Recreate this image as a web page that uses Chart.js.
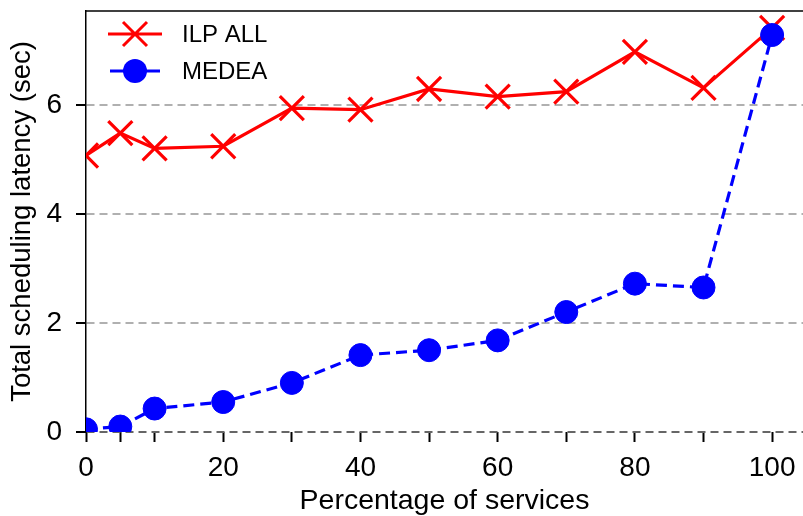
<!DOCTYPE html>
<html>
<head>
<meta charset="utf-8">
<script src="https://cdn.jsdelivr.net/npm/chart.js@4/dist/chart.umd.min.js"></script>
<style>
  html, body { margin: 0; padding: 0; background: #fff; }
  #wrap { width: 803px; height: 516px; }
</style>
</head>
<body>
<div id="wrap"><canvas id="c" width="803" height="516"></canvas></div>
<script>
// Percentage of services scheduled
const percentages = [0, 5, 10, 20, 30, 40, 50, 60, 70, 80, 90, 100];
// Total scheduling latency in seconds
const ilpAll = [5.07, 5.48, 5.20, 5.24, 5.94, 5.91, 6.29, 6.15, 6.24, 6.97, 6.31, 7.41];
const medea  = [0.05, 0.10, 0.43, 0.55, 0.90, 1.41, 1.50, 1.68, 2.20, 2.72, 2.65, 7.28];
const xTickValues = [0, 5, 10, 20, 30, 40, 50, 60, 70, 80, 90, 100];
const xLabelValues = [0, 20, 40, 60, 80, 100];
const yTickValues = [0, 2, 4, 6];
const seriesNames = ['ILP ALL', 'MEDEA'];

const FONT = "'Liberation Sans', Arial, Helvetica, sans-serif";
const RED = '#ff0000';
const BLUE = '#0000ff';

const toPoints = (ys) => percentages.map((x, i) => ({ x, y: ys[i] }));

// Top frame line and the in-plot legend
const framePlugin = {
  id: 'frameAndLegend',
  afterDraw(chart) {
    const { ctx, chartArea } = chart;
    ctx.save();
    ctx.strokeStyle = '#000';
    ctx.lineWidth = 1.5;
    ctx.beginPath();
    ctx.moveTo(chartArea.left, chartArea.top);
    ctx.lineTo(chartArea.right, chartArea.top);
    ctx.stroke();

    const lx0 = 108, lx1 = 162, cx = 135, tx = 182;
    const rows = [34, 71];
    // ILP ALL entry
    ctx.strokeStyle = RED;
    ctx.lineWidth = 3;
    ctx.beginPath();
    ctx.moveTo(lx0, rows[0]); ctx.lineTo(lx1, rows[0]);
    const d = 12;
    ctx.moveTo(cx - d, rows[0] - d); ctx.lineTo(cx + d, rows[0] + d);
    ctx.moveTo(cx - d, rows[0] + d); ctx.lineTo(cx + d, rows[0] - d);
    ctx.stroke();
    // MEDEA entry
    ctx.strokeStyle = BLUE;
    ctx.beginPath();
    ctx.moveTo(lx0 + 2, rows[1]); ctx.lineTo(lx1 - 2, rows[1]);
    ctx.stroke();
    ctx.fillStyle = BLUE;
    ctx.beginPath();
    ctx.arc(cx, rows[1], 12, 0, Math.PI * 2);
    ctx.fill();

    ctx.fillStyle = '#000';
    ctx.font = '24px ' + FONT;
    ctx.textBaseline = 'middle';
    ctx.textAlign = 'left';
    ctx.fillText(seriesNames[0], tx, rows[0] + 1);
    ctx.fillText(seriesNames[1], tx, rows[1] + 1);
    ctx.restore();
  }
};

new Chart(document.getElementById('c'), {
  type: 'line',
  data: {
    datasets: [
      {
        label: seriesNames[0],
        data: toPoints(ilpAll),
        borderColor: RED,
        backgroundColor: RED,
        borderWidth: 3.2,
        pointStyle: 'crossRot',
        pointRadius: 17,
        pointBorderWidth: 3.2,
        pointBorderColor: RED,
        tension: 0,
        order: 1
      },
      {
        label: seriesNames[1],
        data: toPoints(medea),
        borderColor: BLUE,
        backgroundColor: BLUE,
        borderWidth: 3.2,
        borderDash: [11, 6],
        pointStyle: 'circle',
        pointRadius: 11.5,
        pointBorderWidth: 1,
        pointBorderColor: BLUE,
        pointBackgroundColor: BLUE,
        tension: 0,
        order: 0
      }
    ]
  },
  options: {
    responsive: false,
    animation: false,
    devicePixelRatio: 1,
    layout: { autoPadding: false, padding: { top: 11, right: 0, left: 0, bottom: 0 } },
    plugins: {
      legend: { display: false },
      tooltip: { enabled: false }
    },
    scales: {
      x: {
        type: 'linear',
        min: 0,
        max: 104.5,
        afterBuildTicks(axis) {
          axis.ticks = xTickValues.map(v => ({ value: v }));
        },
        afterFit(axis) {
          axis.height = 84;
          axis.paddingLeft = 0;
          axis.paddingRight = 0;
        },
        ticks: {
          autoSkip: false,
          maxRotation: 0,
          padding: 9,
          color: '#000',
          font: { family: FONT, size: 28 },
          callback: (v) => xLabelValues.includes(v) ? String(v) : ''
        },
        grid: {
          drawOnChartArea: false,
          drawTicks: true,
          tickLength: 10,
          tickColor: '#000',
          tickWidth: 2
        },
        border: { display: false },
        title: {
          display: true,
          text: 'Percentage of services',
          color: '#000',
          font: { family: FONT, size: 28.5, lineHeight: 1.05 },
          padding: { top: 0, bottom: 0 }
        }
      },
      y: {
        type: 'linear',
        min: 0,
        max: 7.72,
        afterBuildTicks(axis) {
          axis.ticks = yTickValues.map(v => ({ value: v }));
        },
        afterFit(axis) {
          axis.width = 86;
          axis.paddingTop = 0;
          axis.paddingBottom = 0;
        },
        ticks: {
          padding: 14,
          color: '#000',
          font: { family: FONT, size: 28 }
        },
        grid: {
          drawOnChartArea: true,
          drawTicks: true,
          tickLength: 10,
          tickColor: '#000',
          tickWidth: 2,
          lineWidth: 2,
          color: (c) => (c.tick && c.tick.value === 0) ? '#666' : '#b0b0b0'
        },
        border: { display: true, color: '#000', width: 1.5, dash: [8, 5] },
        title: {
          display: true,
          text: 'Total scheduling latency (sec)',
          color: '#000',
          font: { family: FONT, size: 27.5 },
          padding: { top: 6, bottom: 0 }
        }
      }
    }
  },
  plugins: [framePlugin]
});
</script>
</body>
</html>
